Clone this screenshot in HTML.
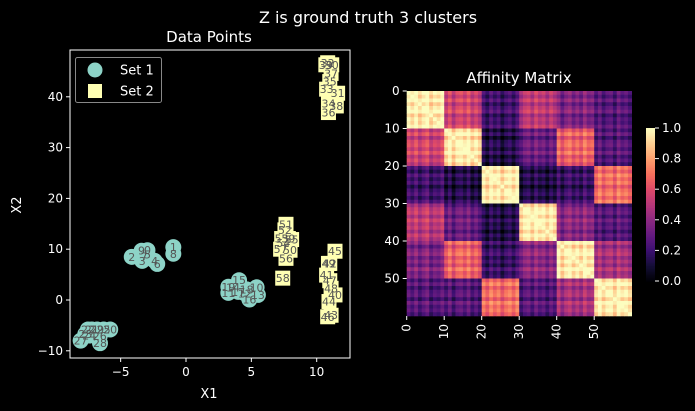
<!DOCTYPE html>
<html><head><meta charset="utf-8"><style>
html,body{margin:0;padding:0;background:#000;}
svg{display:block;font-family:"DejaVu Sans","Liberation Sans",sans-serif;}
</style></head><body>
<svg id="fig" width="695" height="411" viewBox="0 0 695 411">
<rect width="695" height="411" fill="#000"/>
<text x="368" y="23" fill="#fff" font-size="16" text-anchor="middle">Z is ground truth 3 clusters</text>
<text x="209" y="42" fill="#fff" font-size="15" text-anchor="middle">Data Points</text>
<text x="519" y="83" fill="#fff" font-size="15" text-anchor="middle">Affinity Matrix</text>
<text x="209" y="398" fill="#fff" font-size="13" text-anchor="middle">X1</text>
<text x="21" y="205" fill="#fff" font-size="13" text-anchor="middle" transform="rotate(-90 21 205)">X2</text>
<g id="scatter"></g>
<g id="heat"></g>
<g id="cbar"></g>
</svg>
<script>
// ---- scatter data ----
const set1X = [-2.95,-0.97,-4.15,-3.35,-2.4,-2.95,-2.2,-3.2,-0.97,-3.4, 5.4,3.24,4.5,5.5,3.6,4.06,4.85,4.0,4.64,3.24, -5.8,-7.2,-7.5,-7.7,-7.4,-6.3,-6.6,-8.06,-6.58,-6.8];
const set1Y = [9.8,10.4,8.5,7.7,7.7,9.0,7.1,8.6,9.1,9.7, 2.5,1.4,1.3,1.0,2.5,3.9,0.1,1.6,2.1,2.6, -5.8,-5.8,-5.8,-6.7,-7.0,-5.8,-7.1,-8.0,-8.5,-5.8];
const set2X = [11.15,11.6,10.84,10.76,10.9,11.0,10.9,11.1,11.5,10.7, 11.4,10.76,11.0,11.1,10.94,11.4,10.84,11.0,11.1,10.9, 7.96,7.65,7.57,7.32,7.45,8.08,7.65,7.24,7.4,7.83];
const set2Y = [46.3,40.7,46.7,41.5,38.7,43.0,36.9,44.6,38.2,46.3, 1.0,4.9,7.2,-3.0,-0.3,9.6,-3.3,3.8,2.3,7.2, 9.8,14.9,13.8,12.1,11.2,11.9,8.2,10.0,4.3,12.1];
const xTicks = [-5,0,5,10];
const yTicks = [-10,0,10,20,30,40];
// ---- heatmap data ----
const blockVals = [
 [0.95,0.55,0.20,0.50,0.35,0.25],
 [0.55,0.95,0.12,0.30,0.65,0.25],
 [0.20,0.12,0.95,0.12,0.18,0.68],
 [0.50,0.30,0.12,0.95,0.38,0.25],
 [0.35,0.65,0.18,0.38,0.95,0.45],
 [0.25,0.25,0.68,0.25,0.45,0.95]];
const rowJitter = [0.04,-0.03,0.06,-0.05,0.02,0.07,-0.06,0.01,-0.02,0.05,
 -0.04,0.06,-0.07,0.03,0.05,-0.02,0.07,-0.05,0.02,-0.06,
 0.03,-0.05,0.06,-0.02,0.04,-0.07,0.01,0.05,-0.03,0.06,
 -0.06,0.02,0.05,-0.04,0.07,-0.01,0.03,-0.06,0.04,-0.03,
 0.05,-0.07,0.02,0.06,-0.04,0.03,-0.05,0.07,-0.02,0.01,
 -0.03,0.06,-0.05,0.02,0.04,-0.06,0.07,-0.01,0.03,-0.04];
const hmTicks = [0,10,20,30,40,50];
const cbTicks = [0.0,0.2,0.4,0.6,0.8,1.0];

const NS="http://www.w3.org/2000/svg";
function mk(tag,attrs,parent){const e=document.createElementNS(NS,tag);for(const k in attrs)e.setAttribute(k,attrs[k]);parent.appendChild(e);return e;}
const L=70,R=350,T=50,B=358;
const sx=v=>186+v*13.07, sy=v=>300-v*5.08;
const sc=document.getElementById('scatter');
xTicks.forEach(t=>{const g=mk('g',{},sc);


mk('line',{x1:sx(t),x2:sx(t),y1:B,y2:B+4,stroke:'#fff'},g);
const tx=mk('text',{x:sx(t),y:B+18,fill:'#fff','font-size':12,'text-anchor':'middle'},g);tx.textContent=t<0?'\u2212'+(-t):t;});
yTicks.forEach(t=>{const g=mk('g',{},sc);


mk('line',{x1:L-4,x2:L,y1:sy(t),y2:sy(t),stroke:'#fff'},g);
const tx=mk('text',{x:L-7,y:sy(t)+4,fill:'#fff','font-size':12,'text-anchor':'end'},g);tx.textContent=t<0?'\u2212'+(-t):t;});
const clip=mk('clipPath',{id:'cp'},sc);mk('rect',{x:L,y:T,width:R-L,height:B-T},clip);
const pts=mk('g',{'clip-path':'url(#cp)'},sc);
set1X.forEach((x,i)=>{const c=mk('circle',{cx:sx(x),cy:sy(set1Y[i]),r:8,fill:'#8dd3c7'},pts);

});
set2X.forEach((x,i)=>{const r=mk('rect',{x:sx(x)-7.5,y:sy(set2Y[i])-7.5,width:15,height:15,fill:'#ffffb3'},pts);

});
set1X.forEach((x,i)=>{const t=mk('text',{x:sx(x),y:sy(set1Y[i])+4,fill:'#555','font-size':11,'text-anchor':'middle'},pts);t.textContent=i;

});
set2X.forEach((x,i)=>{const t=mk('text',{x:sx(x),y:sy(set2Y[i])+4,fill:'#555','font-size':11,'text-anchor':'middle'},pts);t.textContent=30+i;

});
mk('rect',{x:L,y:T,width:R-L,height:B-T,fill:'none',stroke:'#fff','stroke-width':1},sc);
const lg=mk('g',{},sc);


mk('rect',{x:75.5,y:57.5,width:86,height:45,rx:2,fill:'#000',stroke:'#888'},lg);
mk('circle',{cx:95,cy:70,r:7.5,fill:'#8dd3c7'},lg);
mk('rect',{x:88,y:84,width:14,height:14,fill:'#ffffb3'},lg);
let t1=mk('text',{x:120,y:74.5,fill:'#fff','font-size':13},lg);t1.textContent='Set 1';
let t2=mk('text',{x:120,y:95.5,fill:'#fff','font-size':13},lg);t2.textContent='Set 2';
const mstops=[[0,0,0,4],[0.1,20,14,54],[0.2,59,15,112],[0.3,100,26,128],[0.4,140,41,129],[0.5,183,55,121],[0.6,222,73,104],[0.7,247,112,92],[0.8,254,159,109],[0.9,254,207,146],[1,252,253,191]];
function magma(v){v=Math.max(0,Math.min(1,v));for(let i=1;i<mstops.length;i++){if(v<=mstops[i][0]){const a=mstops[i-1],b=mstops[i],f=(v-a[0])/(b[0]-a[0]);return `rgb(${Math.round(a[1]+f*(b[1]-a[1]))},${Math.round(a[2]+f*(b[2]-a[2]))},${Math.round(a[3]+f*(b[3]-a[3]))})`;}}return 'rgb(252,253,191)';}
const HX=406.7,HY=91,HS=225,N=60,cs=HS/N;
const hm=document.getElementById('heat');
for(let i=0;i<N;i++)for(let j=0;j<N;j++){
 let v=blockVals[Math.floor(i/10)][Math.floor(j/10)]+(rowJitter[i]+rowJitter[j]);
 if(i===j)v=1;
 const r=mk('rect',{x:HX+j*cs,y:HY+i*cs,width:cs+0.3,height:cs+0.3,fill:magma(v)},hm);
 
 
}
hmTicks.forEach(t=>{const p=t*cs;
 mk('line',{x1:HX-4,x2:HX,y1:HY+p,y2:HY+p,stroke:'#fff'},hm);
 const ty=mk('text',{x:HX-7,y:HY+p+4,fill:'#fff','font-size':12,'text-anchor':'end'},hm);ty.textContent=t;
 
 
 mk('line',{x1:HX+p,x2:HX+p,y1:HY+HS,y2:HY+HS+4,stroke:'#fff'},hm);
 const tx=mk('text',{x:HX+p+4,y:HY+HS+8,fill:'#fff','font-size':12,'text-anchor':'end',transform:`rotate(-90 ${HX+p+4} ${HY+HS+8})`},hm);tx.textContent=t;
 
 
});
const cb=document.getElementById('cbar');const CX=646,CW=9,CT=128,CB=281;
for(let k=0;k<100;k++){const v0=k/100;mk('rect',{x:CX,y:CB-(k+1)*(CB-CT)/100,width:CW,height:(CB-CT)/100+0.5,fill:magma(v0+0.005)},cb);}
cbTicks.forEach(t=>{const y=CB-t*(CB-CT);mk('line',{x1:CX+CW,x2:CX+CW+4,y1:y,y2:y,stroke:'#fff'},cb);
 const tx=mk('text',{x:CX+CW+7,y:y+4,fill:'#fff','font-size':12},cb);tx.textContent=t.toFixed(1);
 
 });
</script>
</body></html>
